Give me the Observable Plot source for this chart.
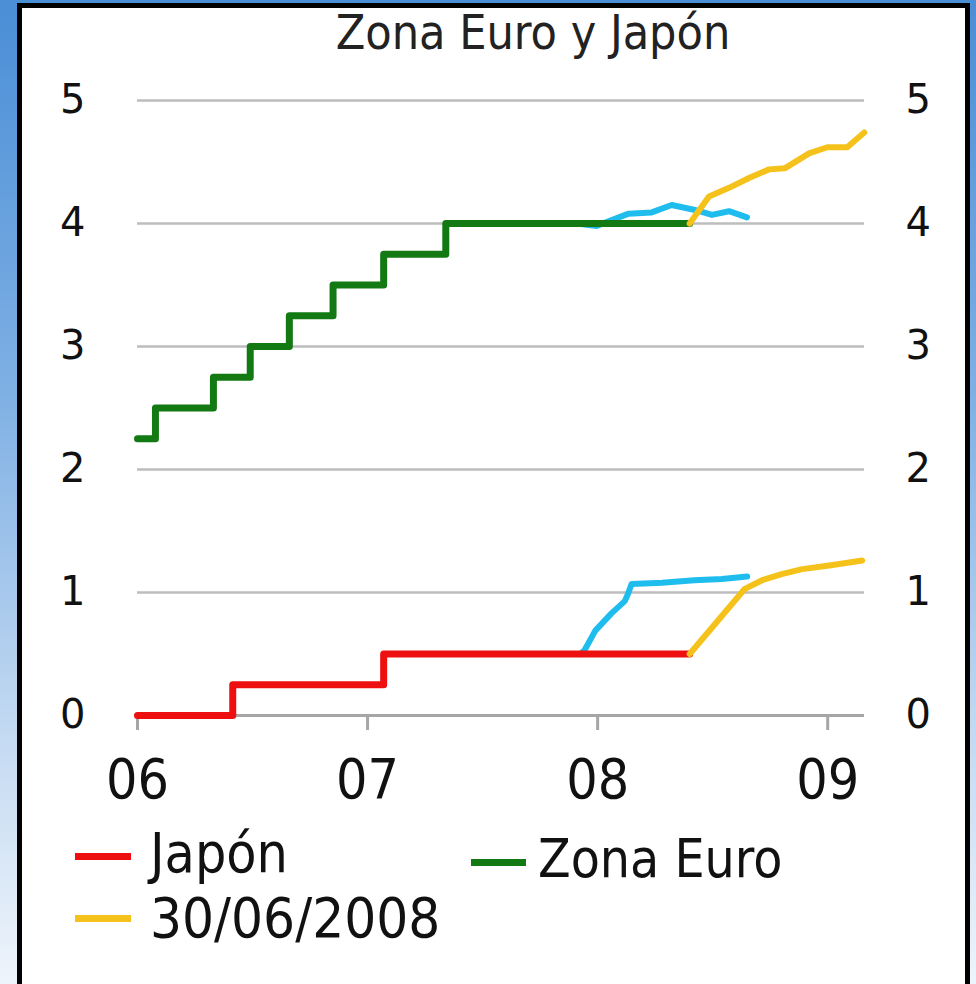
<!DOCTYPE html>
<html>
<head>
<meta charset="utf-8">
<script src="https://cdn.jsdelivr.net/npm/d3@7"></script>
<script src="https://cdn.jsdelivr.net/npm/@observablehq/plot@0.6"></script>
<style>
  html, body { margin: 0; padding: 0; }
  body {
    width: 976px; height: 984px; overflow: hidden; position: relative;
    background: linear-gradient(to bottom, #4a8ed6 0%, #7fb0e4 40%, #c4daf2 75%, #eef4fb 100%);
  }
  #panel {
    position: absolute; left: 17px; top: 3px; width: 943px; height: 1000px;
    background: #fff; border: 5px solid #000; border-bottom: none;
  }
  #title {
    position: absolute; left: 0; top: 4px; width: 1066px; text-align: center;
    font-family: "DejaVu Sans Condensed", "DejaVu Sans"; font-size: 48px; color: #222;
  }
  #chart { position: absolute; left: 0; top: 0; }
  .leg { position: absolute; font-family: "DejaVu Sans Condensed", "DejaVu Sans"; font-size: 55px; color: #111; line-height: 1; }
  .sw { position: absolute; height: 7px; }
</style>
</head>
<body>
<div id="panel"></div>
<div id="title">Zona Euro y Japón</div>
<div id="chart"></div>
<div class="sw" style="left:75px;top:853px;width:56px;background:#ee1010"></div>
<div class="leg" style="left:150px;top:826px">Japón</div>
<div class="sw" style="left:471px;top:859px;width:55px;background:#137a13"></div>
<div class="leg" style="left:538px;top:832px;font-size:53px">Zona Euro</div>
<div class="sw" style="left:75px;top:915px;width:56px;background:#f5c21b"></div>
<div class="leg" style="left:150px;top:890px;font-size:56px">30/06/2008</div>
<script>
// Tick labels
const xTicks = [2006, 2007, 2008, 2009];
const xTickLabels = ["06", "07", "08", "09"];
const yTicks = [0, 1, 2, 3, 4, 5];
const yTickLabels = ["0", "1", "2", "3", "4", "5"];

// Zona Euro policy rate (step)
const euroX = [2006.0, 2006.078, 2006.33, 2006.49, 2006.66, 2006.85, 2007.07, 2007.34, 2008.40];
const euroY = [2.25, 2.5, 2.75, 3.0, 3.25, 3.5, 3.75, 4.0, 4.0];

// Japón policy rate (step)
const japanX = [2006.0, 2006.414, 2007.07, 2008.40];
const japanY = [0, 0.25, 0.5, 0.5];

// Forward curve 30/06/2008 (yellow)
const fwdEuroX = [2008.40, 2008.484, 2008.571, 2008.658, 2008.745, 2008.815, 2008.919, 2008.998, 2009.085, 2009.159];
const fwdEuroY = [4.0, 4.22, 4.29, 4.37, 4.44, 4.45, 4.57, 4.62, 4.62, 4.74];
const fwdJapanX = [2008.40, 2008.64, 2008.715, 2008.80, 2008.889, 2009.007, 2009.15];
const fwdJapanY = [0.5, 1.03, 1.10, 1.15, 1.19, 1.22, 1.26];

// Earlier forward curve (cyan)
const prevEuroX = [2007.91, 2007.996, 2008.05, 2008.135, 2008.235, 2008.322, 2008.423, 2008.497, 2008.571, 2008.649];
const prevEuroY = [4.0, 3.98, 4.02, 4.08, 4.09, 4.15, 4.11, 4.07, 4.10, 4.05];
const prevJapanX = [2007.925, 2007.943, 2007.99, 2008.06, 2008.118, 2008.13, 2008.148, 2008.28, 2008.42, 2008.54, 2008.65];
const prevJapanY = [0.5, 0.53, 0.69, 0.83, 0.93, 0.98, 1.07, 1.08, 1.10, 1.11, 1.13];

const pts = (xs, ys) => xs.map((x, i) => ({x, y: ys[i]}));
const yFmt = (d) => yTickLabels[yTicks.indexOf(d)];

const chart = Plot.plot({
  width: 976,
  height: 820,
  marginTop: 100,
  marginBottom: 105,
  marginLeft: 137,
  marginRight: 112,
  style: {background: "transparent", fontFamily: "DejaVu Sans", overflow: "visible"},
  x: {domain: [2006, 2009.16]},
  y: {domain: [0, 5]},
  marks: [
    Plot.ruleY([1, 2, 3, 4, 5], {stroke: "#bdbdbd", strokeWidth: 2.5}),
    Plot.ruleY([0], {stroke: "#a6a6a6", strokeWidth: 3}),
    Plot.axisX({
      ticks: xTicks, tickFormat: (d) => xTickLabels[xTicks.indexOf(d)],
      tickSize: 15, tickPadding: 28, stroke: "#a6a6a6", strokeWidth: 3,
      fontSize: 55, fontFamily: "DejaVu Sans Condensed", fill: "#111", label: null
    }),
    Plot.axisY({anchor: "left", ticks: yTicks, tickFormat: yFmt, tickSize: 0, tickPadding: 52, fontSize: 40, fill: "#111", label: null}),
    Plot.axisY({anchor: "right", ticks: yTicks, tickFormat: yFmt, tickSize: 0, tickPadding: 41, fontSize: 40, fill: "#111", label: null}),
    Plot.line(pts(prevEuroX, prevEuroY), {x: "x", y: "y", stroke: "#1fbdee", strokeWidth: 6}),
    Plot.line(pts(prevJapanX, prevJapanY), {x: "x", y: "y", stroke: "#1fbdee", strokeWidth: 6}),
    Plot.line(pts(japanX, japanY), {x: "x", y: "y", curve: "step-after", stroke: "#ee1010", strokeWidth: 7}),
    Plot.line(pts(euroX, euroY), {x: "x", y: "y", curve: "step-after", stroke: "#137a13", strokeWidth: 7}),
    Plot.line(pts(fwdEuroX, fwdEuroY), {x: "x", y: "y", stroke: "#f5c21b", strokeWidth: 6}),
    Plot.line(pts(fwdJapanX, fwdJapanY), {x: "x", y: "y", stroke: "#f5c21b", strokeWidth: 6})
  ]
});
document.getElementById("chart").appendChild(chart);
</script>
</body>
</html>
